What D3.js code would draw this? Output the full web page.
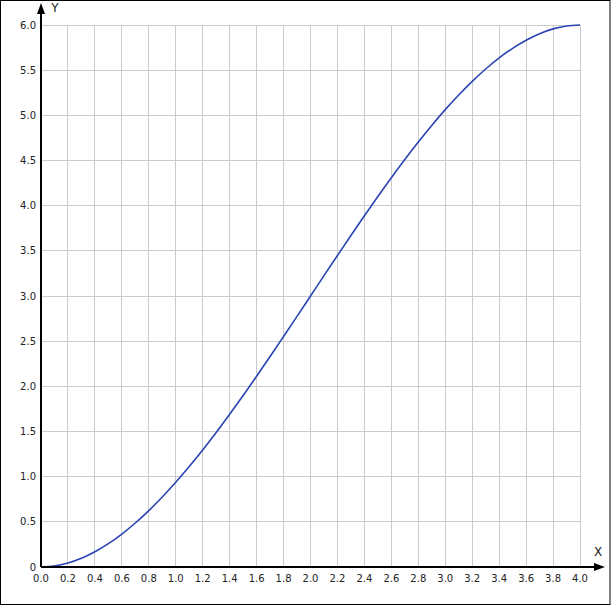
<!DOCTYPE html>
<html><head><meta charset="utf-8">
<script src="https://cdn.jsdelivr.net/npm/d3@7"></script>
<style>body{margin:0;background:#fff}svg{display:block}</style>
</head><body>
<script>
const xValues = [0,0.1,0.2,0.3,0.4,0.5,0.6,0.7,0.8,0.9,1.0,1.1,1.2,1.3,1.4,1.5,1.6,1.7,1.8,1.9,2.0,2.1,2.2,2.3,2.4,2.5,2.6,2.7,2.8,2.9,3.0,3.1,3.2,3.3,3.4,3.5,3.6,3.7,3.8,3.9,4.0];
const yValues = [0,0.011,0.044,0.096,0.168,0.258,0.365,0.487,0.624,0.775,0.938,1.112,1.296,1.489,1.691,1.898,2.112,2.330,2.552,2.775,3.000,3.225,3.448,3.670,3.888,4.102,4.310,4.511,4.704,4.888,5.063,5.225,5.376,5.513,5.636,5.742,5.832,5.904,5.957,5.989,6.000];
const xTicks = [0,0.2,0.4,0.6,0.8,1.0,1.2,1.4,1.6,1.8,2.0,2.2,2.4,2.6,2.8,3.0,3.2,3.4,3.6,3.8,4.0];
const yTicks = [0,0.5,1.0,1.5,2.0,2.5,3.0,3.5,4.0,4.5,5.0,5.5,6.0];

const W = 614, H = 607;
const svg = d3.select("body").append("svg").attr("width", W).attr("height", H);
svg.append("rect").attr("x",0.5).attr("y",0.5).attr("width",609.5).attr("height",604)
  .attr("fill","#fff").attr("stroke","#000").attr("stroke-width",1);

const x = d3.scaleLinear().domain([0,4]).range([41,580]);
const y = d3.scaleLinear().domain([0,6]).range([567,25]);

const font = "Verdana, 'DejaVu Sans', sans-serif";
// grid
svg.append("g").selectAll("line").data(xTicks.slice(1)).join("line")
  .attr("x1",d=>x(d)).attr("x2",d=>x(d)).attr("y1",y(0)).attr("y2",y(6))
  .attr("stroke","#cccccc").attr("stroke-width",1).attr("shape-rendering","crispEdges");
svg.append("g").selectAll("line").data(yTicks.slice(1)).join("line")
  .attr("x1",x(0)).attr("x2",x(4)).attr("y1",d=>y(d)).attr("y2",d=>y(d))
  .attr("stroke","#cccccc").attr("stroke-width",1).attr("shape-rendering","crispEdges");

// curve
const pts = xValues.map((v,i)=>[v,yValues[i]]);
svg.append("path").datum(pts)
  .attr("d", d3.line().x(d=>x(d[0])).y(d=>y(d[1])).curve(d3.curveCatmullRom.alpha(0.5)))
  .attr("fill","none").attr("stroke","#2a44b4").attr("stroke-width",1.6);

// axes
svg.append("line").attr("x1",x(0)).attr("x2",596).attr("y1",y(0)).attr("y2",y(0))
  .attr("stroke","#000").attr("stroke-width",2);
svg.append("path").attr("d",`M605,${y(0)} L594,${y(0)-4} L594,${y(0)+4} Z`).attr("fill","#000");
svg.append("line").attr("x1",x(0)).attr("x2",x(0)).attr("y1",y(0)).attr("y2",12)
  .attr("stroke","#000").attr("stroke-width",2);
svg.append("path").attr("d",`M${x(0)},3 L${x(0)-4},14 L${x(0)+4},14 Z`).attr("fill","#000");

svg.append("text").attr("x",55).attr("y",12).attr("text-anchor","middle")
  .attr("font-family",font).attr("font-size",12).attr("fill","#222").text("Y");
svg.append("text").attr("x",598).attr("y",556).attr("text-anchor","middle")
  .attr("font-family",font).attr("font-size",12).attr("fill","#222").text("X");

// tick labels
svg.append("g").selectAll("text").data(xTicks).join("text")
  .attr("x",d=>x(d)).attr("y",582).attr("text-anchor","middle")
  .attr("font-family",font).attr("font-size",10).attr("fill","#222")
  .text(d=>d3.format(".1f")(d));
svg.append("g").selectAll("text").data(yTicks).join("text")
  .attr("x",36).attr("y",d=>y(d)+3.5).attr("text-anchor","end")
  .attr("font-family",font).attr("font-size",10).attr("fill","#222")
  .text(d=>d===0?"0":d3.format(".1f")(d));
</script>
</body></html>
